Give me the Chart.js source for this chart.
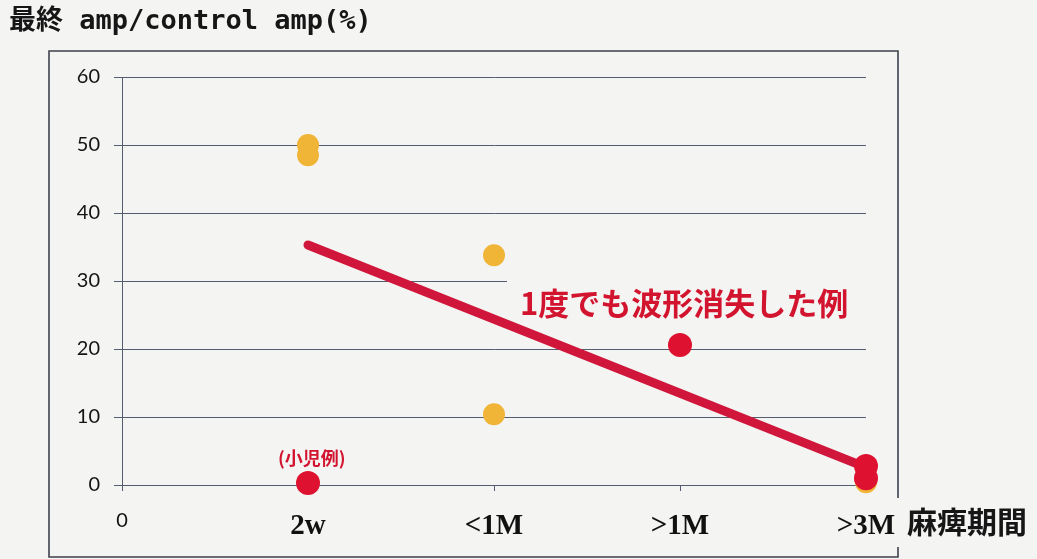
<!DOCTYPE html>
<html>
<head>
<meta charset="utf-8">
<script src="https://cdn.jsdelivr.net/npm/chart.js@4/dist/chart.umd.min.js"></script>
<style>
  html, body { margin: 0; padding: 0; background: #f4f4f3; }
  #wrap { width: 1037px; height: 559px; position: relative; }
</style>
</head>
<body>
<div id="wrap"><canvas id="chart" width="1037" height="559"></canvas></div>
<script>
// Paralysis duration categories on the horizontal axis
const categories = ['0', '2w', '<1M', '>1M', '>3M'];

// Final amp / control amp (%) per case
const yellowCat = ['2w', '2w', '<1M', '<1M', '>3M'];
const yellowVal = [50.0, 48.5, 33.8, 10.4, 0.4];

// Cases where the waveform disappeared at least once
const redCat = ['2w', '>1M', '>3M', '>3M'];
const redVal = [0.3, 20.6, 2.8, 1.0];

// Trend line through the "waveform lost" group
const trendCat = ['2w', '>3M'];
const trendVal = [35.3, 2.6];

const yMin = 0, yMax = 60, yStep = 10;

const toPoints = (cats, vals) => cats.map((c, i) => ({ x: categories.indexOf(c), y: vals[i] }));

const GRID = '#545c72';
const YELLOW = '#f0b436';
const RED = '#de1230';
const LINE_RED = '#d0163a';

const decor = {
  id: 'decor',
  beforeDraw(chart) {
    const ctx = chart.ctx;
    ctx.save();
    ctx.fillStyle = '#f4f4f3';
    ctx.fillRect(0, 0, chart.width, chart.height);
    ctx.restore();
  },
  beforeDatasetsDraw(chart) {
    // the 30 % gridline only runs as far as the <1M column
    const { ctx, scales: { x, y } } = chart;
    const py = Math.round(y.getPixelForValue(30)) + 0.5;
    ctx.save();
    ctx.strokeStyle = GRID;
    ctx.lineWidth = 1;
    ctx.beginPath();
    ctx.moveTo(x.left - 8, py);
    ctx.lineTo(x.getPixelForValue(2.07), py);
    ctx.stroke();
    ctx.restore();
  },
  afterDraw(chart) {
    const { ctx, scales: { x, y } } = chart;
    ctx.save();

    // outer frame
    ctx.strokeStyle = '#3d414b';
    ctx.lineWidth = 1.6;
    ctx.beginPath();
    ctx.moveTo(898, 498);
    ctx.lineTo(898, 51);
    ctx.lineTo(49, 51);
    ctx.lineTo(49, 557);
    ctx.lineTo(898, 557);
    ctx.lineTo(898, 547);
    ctx.stroke();

    // axis title (vertical)
    ctx.fillStyle = '#161616';
    ctx.textBaseline = 'middle';
    ctx.textAlign = 'left';
    ctx.font = 'bold 27px "DejaVu Sans Mono", "Noto Sans CJK JP"';
    ctx.fillText('最終 amp/control amp(%)', 9, 22);

    // axis title (horizontal)
    ctx.font = 'bold 30px "Noto Sans CJK JP"';
    ctx.fillText('麻痺期間', 907, 522);

    // annotations
    ctx.fillStyle = '#d2142f';
    ctx.font = 'bold 31px "Noto Sans CJK JP"';
    ctx.fillText('1度でも波形消失した例', x.getPixelForValue(2.14), y.getPixelForValue(26.8));

    ctx.textAlign = 'center';
    ctx.font = 'bold 18px "Noto Sans CJK JP"';
    ctx.fillText('(小児例)', x.getPixelForValue(1.02), y.getPixelForValue(4.0));

    ctx.restore();
  }
};

new Chart(document.getElementById('chart'), {
  type: 'scatter',
  data: {
    datasets: [
      {
        label: 'waveform lost',
        data: toPoints(redCat, redVal),
        backgroundColor: RED,
        borderColor: RED,
        pointRadius: 12,
        pointBorderWidth: 0,
        clip: false,
        order: 0
      },
      {
        label: 'other',
        data: toPoints(yellowCat, yellowVal),
        backgroundColor: YELLOW,
        borderColor: YELLOW,
        pointRadius: 11,
        pointBorderWidth: 0,
        clip: false,
        order: 1
      },
      {
        type: 'line',
        label: 'trend',
        data: toPoints(trendCat, trendVal),
        borderColor: LINE_RED,
        borderWidth: 9,
        borderCapStyle: 'round',
        pointRadius: 0,
        fill: false,
        clip: false,
        order: 2
      }
    ]
  },
  plugins: [decor],
  options: {
    responsive: false,
    animation: false,
    events: [],
    layout: { padding: { left: 0, top: 77, right: 171, bottom: 14 } },
    plugins: {
      legend: { display: false },
      tooltip: { enabled: false },
      title: { display: false }
    },
    scales: {
      x: {
        type: 'linear',
        min: 0,
        max: categories.length - 1,
        afterFit: (s) => { s.height = 60; },
        afterBuildTicks: (s) => { s.ticks = categories.map((c, i) => ({ value: i })); },
        border: { display: false },
        grid: {
          display: true,
          drawOnChartArea: false,
          drawTicks: true,
          tickLength: 6,
          color: GRID,
          lineWidth: 1
        },
        ticks: {
          autoSkip: false,
          maxRotation: 0,
          padding: 18,
          color: '#111',
          callback: (v) => categories[v],
          font: (c) => c.index === 0
            ? { family: 'Lato', size: 20, weight: 'normal' }
            : { family: '"Liberation Serif"', size: 29, weight: 'bold' }
        }
      },
      y: {
        min: yMin,
        max: yMax,
        afterFit: (s) => { s.width = 122; },
        border: { display: true, color: GRID, width: 1 },
        grid: {
          color: (c) => (c.tick && c.tick.value === 30) ? 'rgba(0,0,0,0)' : GRID,
          lineWidth: 1,
          drawTicks: true,
          tickLength: 8
        },
        ticks: {
          stepSize: yStep,
          padding: 14,
          color: '#141414',
          font: { family: 'Lato', size: 20 }
        }
      }
    }
  }
});
</script>
</body>
</html>
